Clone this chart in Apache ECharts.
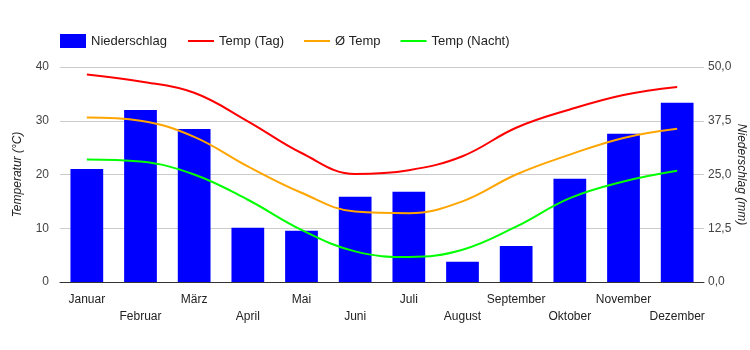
<!DOCTYPE html>
<html>
<head>
<meta charset="utf-8">
<script src="https://cdn.jsdelivr.net/npm/echarts@6/dist/echarts.min.js"></script>
<style>html,body{margin:0;padding:0;background:#fff;}#c{width:750px;height:350px;}</style>
</head>
<body>
<div id="c"></div>
<script>
const months = ['Januar','Februar','März','April','Mai','Juni','Juli','August','September','Oktober','November','Dezember'];
const niederschlag = [26.3, 40.0, 35.6, 12.6, 11.9, 19.8, 21.0, 4.7, 8.4, 24.0, 34.5, 41.7];
const tempTag = [38.6, 37.3, 35.2, 29.9, 24.0, 20.1, 20.8, 23.4, 28.7, 32.1, 34.8, 36.3];
const tempAvg = [30.6, 30.0, 27.0, 21.5, 16.6, 13.1, 12.8, 15.0, 20.0, 23.7, 26.8, 28.5];
const tempNacht = [22.8, 22.4, 20.0, 15.3, 9.7, 5.7, 4.65, 6.0, 10.3, 15.6, 18.7, 20.7];

const font = 'Arial, "Liberation Sans", sans-serif';
const chart = echarts.init(document.getElementById('c'), null, {renderer: 'canvas'});
const lineSeries = (name, data, color) => ({
  name, type: 'line', data, yAxisIndex: 0, symbol: 'none', smooth: 0.4,
  lineStyle: {color, width: 2}, itemStyle: {color}, z: 3
});
chart.setOption({
  animation: false,
  textStyle: {fontFamily: font},
  legend: [
    {data: [{name: 'Niederschlag', icon: 'rect'}], left: 55, top: 29, itemWidth: 26, itemHeight: 14,
     textStyle: {fontSize: 13, color: '#222', fontFamily: font}},
    {data: ['Temp (Tag)', 'Ø Temp', 'Temp (Nacht)'].map(n => ({name: n, icon: 'rect'})),
     left: 183, top: 29, itemWidth: 26, itemHeight: 2, itemGap: 20,
     textStyle: {fontSize: 13, color: '#222', fontFamily: font, lineHeight: 14}}
  ],
  grid: {left: 60, right: 46, top: 67, bottom: 68, outerBoundsMode: 'none', containLabel: false},
  xAxis: {
    type: 'category', data: months, boundaryGap: true,
    axisLine: {lineStyle: {color: '#333', width: 1}},
    axisTick: {show: false},
    axisLabel: {interval: 0, margin: 9, color: '#222', fontSize: 12, lineHeight: 17, fontFamily: font,
      formatter: (v, i) => (i % 2 ? '\n' + v : v)}
  },
  yAxis: [
    {type: 'value', min: 0, max: 40, interval: 10, position: 'left',
     name: 'Temperatur (°C)', nameLocation: 'middle', nameGap: 36, nameRotate: 90, nameMoveOverlap: false,
     nameTextStyle: {fontStyle: 'italic', fontSize: 12, color: '#222', fontFamily: font},
     axisLabel: {color: '#444', fontSize: 12, margin: 11, fontFamily: font},
     splitLine: {lineStyle: {color: '#ccc'}}, axisLine: {show: false}, axisTick: {show: false}},
    {type: 'value', min: 0, max: 50, interval: 12.5, position: 'right',
     name: 'Niederschlag (mm)', nameLocation: 'middle', nameGap: 31, nameRotate: -90, nameMoveOverlap: false,
     nameTextStyle: {fontStyle: 'italic', fontSize: 12, color: '#222', fontFamily: font},
     axisLabel: {color: '#444', fontSize: 12, margin: 4, fontFamily: font,
       formatter: v => v.toFixed(1).replace('.', ',')},
     splitLine: {show: false}, axisLine: {show: false}, axisTick: {show: false}}
  ],
  series: [
    {name: 'Niederschlag', type: 'bar', data: niederschlag, yAxisIndex: 1, barWidth: '61%',
     itemStyle: {color: '#0000ff'}, z: 2},
    lineSeries('Temp (Tag)', tempTag, '#ff0000'),
    lineSeries('Ø Temp', tempAvg, '#ffa500'),
    lineSeries('Temp (Nacht)', tempNacht, '#00ff00')
  ]
});
</script>
</body>
</html>
